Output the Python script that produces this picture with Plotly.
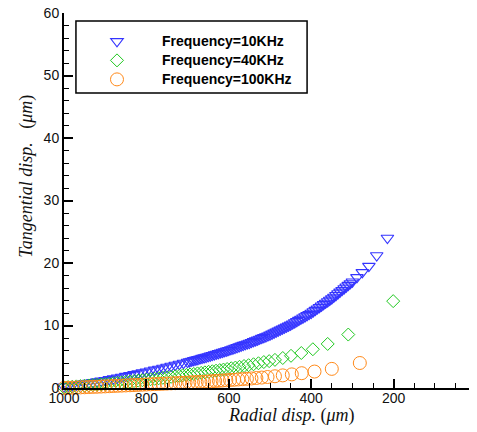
import plotly.graph_objects as go

# ---- data ----
x_10k = [215, 241, 260, 276, 289, 300, 305, 310, 315, 320, 325, 330, 335, 340, 345, 350,
         355, 360, 365, 370, 375, 380, 385, 390, 395, 400, 405, 410, 415, 420, 425, 430,
         435, 440, 445, 450, 455, 460, 465, 470, 475, 480, 485, 490, 495, 500, 505, 510,
         515, 520, 525, 530, 535, 540, 545, 550, 555, 560, 565, 570, 575, 580, 585, 590,
         595, 600, 605, 610, 615, 620, 625, 630, 635, 640, 645, 650, 655, 660, 665, 670,
         675, 680, 685, 690, 695, 700, 710, 720, 730, 740, 750, 760, 770, 780, 790, 800,
         810, 820, 830, 840, 850, 860, 870, 880, 890, 900, 910, 920, 930, 940, 950, 960,
         970, 980, 990, 1000]
y_10k = [24.0, 21.2, 19.5, 18.5, 17.7, 17.0, 16.73, 16.46, 16.19, 15.92, 15.65, 15.38, 15.11,
         14.84, 14.57, 14.3, 14.07, 13.84, 13.61, 13.38, 13.15, 12.92, 12.69, 12.46, 12.23,
         12.0, 11.81, 11.62, 11.43, 11.24, 11.05, 10.86, 10.67, 10.48, 10.29, 10.1, 9.94,
         9.78, 9.62, 9.46, 9.3, 9.14, 8.98, 8.82, 8.66, 8.5, 8.37, 8.24, 8.11, 7.98, 7.85,
         7.72, 7.59, 7.46, 7.33, 7.2, 7.09, 6.97, 6.86, 6.74, 6.63, 6.51, 6.4, 6.28, 6.17,
         6.05, 5.95, 5.85, 5.75, 5.65, 5.55, 5.45, 5.35, 5.25, 5.15, 5.05, 4.96, 4.87, 4.78,
         4.69, 4.6, 4.51, 4.42, 4.33, 4.24, 4.15, 3.99, 3.83, 3.67, 3.51, 3.35, 3.2, 3.05,
         2.9, 2.75, 2.6, 2.46, 2.32, 2.18, 2.04, 1.9, 1.77, 1.64, 1.51, 1.38, 1.25, 1.14,
         1.03, 0.92, 0.81, 0.7, 0.6, 0.5, 0.4, 0.3, 0.2]

x_40k = [201, 310, 360, 396, 424, 449, 469, 488, 502, 515, 528, 540, 552, 563, 574, 584,
         594, 604, 613, 622, 631, 640, 649, 658, 667, 676, 685, 694, 703, 712, 720, 730,
         740, 750, 760, 770, 780, 790, 800, 810, 820, 830, 840, 850, 860, 870, 880, 890,
         900, 910, 920, 930, 940, 950, 960, 970, 980, 990, 1000]
y_40k = [13.9, 8.55, 7.05, 6.2, 5.6, 5.15, 4.8, 4.5, 4.3, 4.15, 3.96, 3.8, 3.65, 3.52, 3.39,
         3.27, 3.16, 3.04, 2.95, 2.86, 2.77, 2.68, 2.59, 2.5, 2.42, 2.34, 2.25, 2.17, 2.09,
         2.02, 1.95, 1.87, 1.79, 1.71, 1.63, 1.56, 1.48, 1.4, 1.33, 1.25, 1.18, 1.11, 1.04,
         0.97, 0.9, 0.84, 0.77, 0.7, 0.64, 0.58, 0.53, 0.47, 0.41, 0.36, 0.31, 0.26, 0.2,
         0.15, 0.1]

x_100k = [282, 350, 392, 423, 447, 469, 488, 506, 520, 533, 545, 556, 567, 577, 587, 597,
          606, 615, 624, 633, 642, 651, 660, 669, 678, 687, 696, 705, 714, 720, 730, 740,
          750, 760, 770, 780, 790, 800, 810, 820, 830, 840, 850, 860, 870, 880, 890, 900,
          910, 920, 930, 940, 950, 960, 970, 980, 990, 1000]
y_100k = [4.0, 3.06, 2.63, 2.37, 2.18, 2.02, 1.88, 1.76, 1.67, 1.6, 1.53, 1.47, 1.42, 1.37,
          1.32, 1.28, 1.24, 1.2, 1.16, 1.12, 1.08, 1.04, 1.0, 0.97, 0.94, 0.91, 0.88, 0.85,
          0.82, 0.8, 0.77, 0.74, 0.71, 0.68, 0.65, 0.62, 0.59, 0.56, 0.53, 0.5, 0.47, 0.44,
          0.41, 0.38, 0.35, 0.32, 0.29, 0.26, 0.23, 0.2, 0.18, 0.15, 0.12, 0.1, 0.07, 0.05,
          0.02, 0.0]

names = ["Frequency=10KHz", "Frequency=40KHz", "Frequency=100KHz"]
x_ticks = [1000, 800, 600, 400, 200, 0]
y_ticks = [0, 10, 20, 30, 40, 50, 60]

fig = go.Figure()
fig.add_trace(go.Scatter(x=x_10k, y=y_10k, mode="markers", name=names[0], cliponaxis=False,
                         marker=dict(symbol="triangle-down-open", size=11, color="#3434ff",
                                     line=dict(width=1.1))))
fig.add_trace(go.Scatter(x=x_40k, y=y_40k, mode="markers", name=names[1], cliponaxis=False,
                         marker=dict(symbol="diamond-open", size=10, color="#1ec81e",
                                     line=dict(width=1))))
fig.add_trace(go.Scatter(x=x_100k, y=y_100k, mode="markers", name=names[2], cliponaxis=False,
                         marker=dict(symbol="circle-open", size=13, color="#ff8a1a",
                                     line=dict(width=1))))

for tr in fig.data:
    tr.name = '<span style="font-size:14px">' + tr.name + '</span>'

tickfont = dict(family="Liberation Sans, Arial, sans-serif", size=14, color="#111")
fig.update_xaxes(range=[1000, 0], tickvals=x_ticks, ticktext=[str(v) for v in x_ticks],
                 ticks="inside", ticklen=9, tickwidth=2, tickcolor="black",
                 showline=True, linewidth=2, linecolor="black", showgrid=False, zeroline=False,
                 tickfont=tickfont, ticklabelstandoff=-4, ticklabeloverflow="allow",
                 automargin=False,
                 minor=dict(dtick=50, tick0=0, ticks="inside", ticklen=5, tickwidth=1,
                            tickcolor="black", showgrid=False))
fig.update_yaxes(range=[0, 60], tickvals=y_ticks, ticktext=[str(v) for v in y_ticks],
                 ticks="inside", ticklen=9, tickwidth=2, tickcolor="black",
                 showline=True, linewidth=2, linecolor="black", showgrid=False, zeroline=False,
                 tickfont=tickfont, ticklabelstandoff=0, ticklabeloverflow="allow",
                 automargin=False,
                 minor=dict(dtick=2, tick0=0, ticks="inside", ticklen=5, tickwidth=1,
                            tickcolor="black", showgrid=False))

titlefont = dict(family="Liberation Serif, Times New Roman, serif", size=18, color="#111")
fig.add_annotation(text="<i>Radial disp.</i> (<i>μm</i>)", xref="paper", yref="paper",
                   x=0.553, y=-0.072, xanchor="center", yanchor="middle", showarrow=False,
                   font=titlefont)
fig.add_annotation(text="<i>Tangential disp.</i>&nbsp;&nbsp; (<i>μm</i>)", xref="paper",
                   yref="paper", x=-0.09, y=0.566, xanchor="center", yanchor="middle",
                   showarrow=False, textangle=-90, font=titlefont)

fig.add_shape(type="rect", xref="paper", yref="paper", x0=0.029, x1=0.590,
              y0=0.7867, y1=0.9787, line=dict(color="black", width=1.5))

# page body has an 8px margin: shift the figure's margins so the plot area lands
# at x 64..476, y 13..388 in the window
fig.update_layout(
    width=477, height=432,
    margin=dict(l=56, r=9, t=5, b=52, autoexpand=False),
    paper_bgcolor="white", plot_bgcolor="white",
    showlegend=True,
    legend=dict(x=0.0194, y=0.963, xanchor="left", yanchor="top",
                bgcolor="rgba(0,0,0,0)", borderwidth=0, itemwidth=80,
                font=dict(family="Liberation Sans, Arial, sans-serif", size=12,
                          color="black", weight="bold")),
)

fig.write_html("out.html")
